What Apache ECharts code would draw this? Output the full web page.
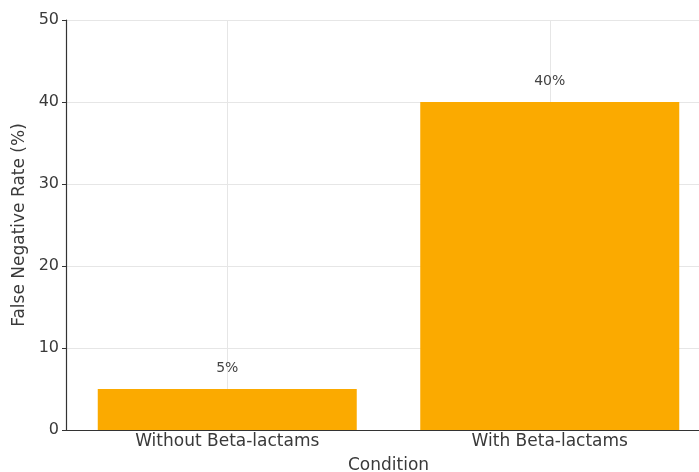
<!DOCTYPE html>
<html>
<head>
<meta charset="utf-8">
<script src="https://cdn.jsdelivr.net/npm/echarts@6/dist/echarts.min.js"></script>
<style>
  html, body { margin: 0; padding: 0; background: #fff; }
  #chart { width: 699px; height: 472px; }
</style>
</head>
<body>
<div id="chart"></div>
<script>
const categories = ['Without Beta-lactams', 'With Beta-lactams'];
const rates = [5, 40];
const yTicks = [0, 10, 20, 30, 40, 50];

const chart = echarts.init(document.getElementById('chart'));

const option = {
  animation: false,
  textStyle: { fontFamily: 'DejaVu Sans' },
  grid: { left: 66, width: 645, top: 20, bottom: 42, containLabel: false, outerBoundsMode: 'none' },
  xAxis: {
    type: 'category',
    data: categories,
    name: 'Condition',
    nameLocation: 'middle',
    nameGap: 27,
    nameTextStyle: { fontSize: 17, color: '#3a3a3a' },
    axisLine: { lineStyle: { color: '#333', width: 1.2 } },
    axisTick: { alignWithLabel: true, length: 4, lineStyle: { color: '#333' } },
    axisLabel: { fontSize: 17, color: '#3a3a3a', margin: 3 },
    splitLine: { show: false }
  },
  yAxis: {
    type: 'value',
    min: yTicks[0],
    max: yTicks[yTicks.length - 1],
    interval: 10,
    name: 'False Negative Rate (%)',
    nameLocation: 'middle',
    nameGap: 33,
    nameTextStyle: { fontSize: 17, color: '#3a3a3a' },
    axisLine: { show: true, lineStyle: { color: '#333', width: 1.2 } },
    axisTick: { show: true, length: 4, lineStyle: { color: '#333' } },
    axisLabel: { fontSize: 16, color: '#3a3a3a', margin: 7 },
    splitLine: { lineStyle: { color: '#e6e6e6', width: 1 } }
  },
  series: [
    {
      type: 'bar',
      data: rates,
      barWidth: 259,
      z: 2,
      itemStyle: { color: '#FBAA00' },
      label: {
        show: true,
        position: 'top',
        distance: 14,
        fontSize: 14,
        color: '#444',
        formatter: p => p.value + '%'
      },
      markLine: {
        silent: true,
        symbol: ['none', 'none'],
        label: { show: false },
        z: 1,
        lineStyle: { color: '#e6e6e6', type: 'solid', width: 1 },
        data: categories.map(c => ({ xAxis: c }))
      }
    }
  ]
};

chart.setOption(option);
</script>
</body>
</html>
